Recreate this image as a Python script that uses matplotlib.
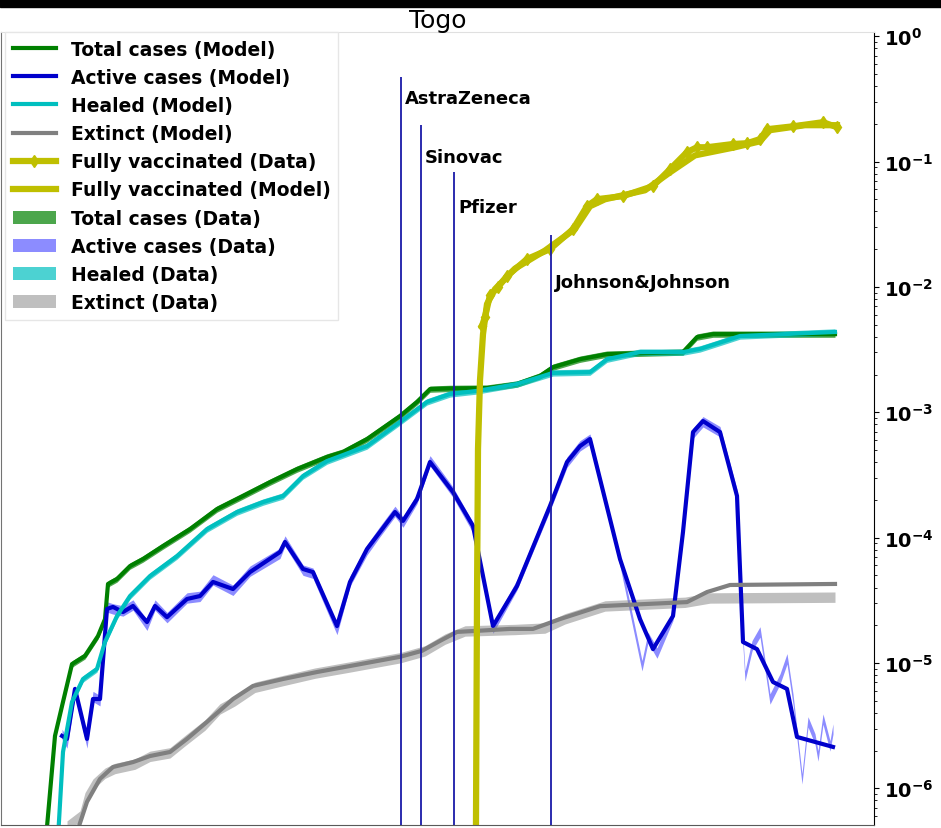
import matplotlib
matplotlib.use('Agg')
import matplotlib.pyplot as plt
from matplotlib.patches import Rectangle

# days since first reported case, values as fraction of population
total_days = [1, 10, 18, 27, 40, 53, 60, 63, 72, 85, 98, 118, 145, 172, 198, 225, 252, 282,
              298, 322, 355, 372, 385, 405, 442, 472, 495, 508, 535, 562, 638, 652, 668, 790]
total_model = [4.0e-7, 2.62e-6, 4.89e-6, 9.8e-6, 1.14e-5, 1.64e-5, 2.24e-5, 4.27e-5, 4.68e-5,
               5.93e-5, 6.75e-5, 8.57e-5, 1.17e-4, 1.69e-4, 2.15e-4, 2.77e-4, 3.52e-4, 4.40e-4,
               4.82e-4, 6.11e-4, 9.33e-4, 1.21e-3, 1.53e-3, 1.55e-3, 1.56e-3, 1.68e-3, 1.95e-3,
               2.29e-3, 2.65e-3, 2.91e-3, 3.02e-3, 3.98e-3, 4.2e-3, 4.2e-3]

healed_days = [13, 18, 27, 38, 52, 60, 72, 85, 105, 132, 162, 192, 218, 238, 258, 282, 322,
               355, 382, 405, 432, 472, 508, 545, 562, 595, 638, 655, 675, 695, 790]
healed_model = [4.0e-7, 1.95e-6, 4.89e-6, 7.45e-6, 8.96e-6, 1.47e-5, 2.37e-5, 3.42e-5, 4.94e-5,
                7.13e-5, 1.17e-4, 1.60e-4, 1.92e-4, 2.15e-4, 3.10e-4, 4.08e-4, 5.38e-4, 8.36e-4,
                1.21e-3, 1.40e-3, 1.48e-3, 1.68e-3, 2.06e-3, 2.09e-3, 2.65e-3, 3.02e-3, 3.02e-3,
                3.2e-3, 3.6e-3, 4.06e-3, 4.37e-3]

active_days = [17, 22, 30, 42, 48, 55, 62, 68, 78, 88, 102, 110, 122, 142, 155, 168, 188, 205,
               235, 240, 258, 268, 292, 305, 322, 335, 350, 358, 372, 385, 408, 428, 448, 472,
               505, 522, 535, 545, 575, 595, 608, 628, 638, 648, 658, 675, 692, 698, 712, 728,
               742, 752, 788]
active_model = [2.62e-6, 2.48e-6, 6.21e-6, 2.48e-6, 5.16e-6, 5.16e-6, 2.70e-5, 2.80e-5, 2.55e-5,
                2.85e-5, 2.12e-5, 2.85e-5, 2.32e-5, 3.24e-5, 3.42e-5, 4.43e-5, 3.89e-5, 5.31e-5,
                7.67e-5, 9.23e-5, 5.62e-5, 5.31e-5, 1.97e-5, 4.43e-5, 8.11e-5, 1.11e-4, 1.60e-4,
                1.36e-4, 2.03e-4, 4.01e-4, 2.31e-4, 1.24e-4, 1.97e-5, 4.11e-5, 1.79e-4, 4.01e-4,
                5.37e-4, 6.12e-4, 6.75e-5, 2.24e-5, 1.29e-5, 2.37e-5, 1.11e-4, 6.95e-4, 8.51e-4,
                6.95e-4, 2.15e-4, 1.47e-5, 1.29e-5, 7.05e-6, 6.21e-6, 2.57e-6, 2.14e-6]

active_data_days = [17, 22, 30, 42, 48, 55, 62, 68, 78, 88, 102, 110, 122, 142, 155, 168, 188,
                    205, 235, 240, 258, 268, 292, 305, 322, 335, 350, 358, 372, 385, 408, 428,
                    448, 472, 505, 522, 535, 545, 575, 597, 603, 612, 628, 638, 648, 658, 675,
                    692, 698, 700, 707, 715, 718, 725, 735, 742, 748, 757, 763, 770, 773, 778,
                    785, 788]
active_data = [2.7e-6, 2.3e-6, 6.0e-6, 2.3e-6, 5.4e-6, 5.0e-6, 2.8e-5, 2.7e-5, 2.6e-5, 2.9e-5,
               2.0e-5, 2.9e-5, 2.3e-5, 3.3e-5, 3.4e-5, 4.6e-5, 3.8e-5, 5.4e-5, 7.5e-5, 9.4e-5,
               5.5e-5, 5.2e-5, 1.85e-5, 4.5e-5, 8.0e-5, 1.12e-4, 1.62e-4, 1.33e-4, 2.05e-4, 4.1e-4,
               2.3e-4, 1.2e-4, 1.9e-5, 4.2e-5, 1.8e-4, 4.0e-4, 5.4e-4, 6.1e-4, 6.5e-5, 9.5e-6,
               1.6e-5, 1.2e-5, 2.4e-5, 1.1e-4, 6.8e-4, 8.4e-4, 7.0e-4, 2.2e-4, 1.47e-5, 7.87e-6,
               1.37e-5, 1.77e-5, 1.23e-5, 5.16e-6, 7.45e-6, 1.08e-5, 5.16e-6, 1.19e-6, 3.39e-6,
               2.48e-6, 1.81e-6, 3.57e-6, 2.18e-6, 2.98e-6]

extinct_days = [30, 42, 55, 68, 88, 105, 125, 142, 162, 188, 208, 238, 272, 305, 355, 377, 395,
                412, 435, 465, 488, 515, 555, 642, 662, 685, 790]
extinct_model = [4.0e-7, 7.8e-7, 1.19e-6, 1.48e-6, 1.62e-6, 1.81e-6, 1.95e-6, 2.48e-6, 3.39e-6,
                 5.16e-6, 6.56e-6, 7.45e-6, 8.47e-6, 9.46e-6, 1.12e-5, 1.25e-5, 1.50e-5, 1.77e-5,
                 1.81e-5, 1.87e-5, 1.87e-5, 2.24e-5, 2.84e-5, 3.06e-5, 3.68e-5, 4.19e-5, 4.27e-5]

extinct_data_days = [22, 35, 40, 48, 60, 70, 90, 105, 125, 140, 160, 175, 190, 210, 240, 270,
                     305, 355, 380, 400, 420, 470, 500, 520, 560, 640, 665, 790]
extinct_data = [5.0e-7, 6.0e-7, 8.4e-7, 1.08e-6, 1.32e-6, 1.44e-6, 1.56e-6, 1.8e-6, 1.92e-6,
                2.4e-6, 3.2e-6, 4.3e-6, 5.0e-6, 6.4e-6, 7.3e-6, 8.3e-6, 9.3e-6, 1.1e-5, 1.25e-5,
                1.55e-5, 1.8e-5, 1.85e-5, 1.9e-5, 2.25e-5, 2.85e-5, 3.05e-5, 3.3e-5, 3.35e-5]

vacc_data_days = [437, 440, 445, 453, 462, 482, 505, 528, 542, 552, 578, 608, 625, 642, 652,
                  662, 688, 702, 715, 722, 748, 778, 792]
vacc_data = [4.87e-3, 5.77e-3, 8.6e-3, 9.95e-3, 1.22e-2, 1.67e-2, 2.0e-2, 2.89e-2, 4.41e-2,
             5.01e-2, 5.30e-2, 6.37e-2, 8.69e-2, 0.119, 0.130, 0.130, 0.138, 0.140, 0.151,
             0.181, 0.191, 0.206, 0.188]

vacc_model_days = [430, 432, 433, 435, 438, 442, 450, 470, 500, 530, 545, 560, 600, 625, 650,
                   690, 715, 725, 760, 792]
vacc_model = [1e-8, 3.2e-5, 5.1e-4, 1.8e-3, 4.2e-3, 7.3e-3, 9.6e-3, 1.4e-2, 1.95e-2, 2.9e-2,
              4.4e-2, 5.0e-2, 5.9e-2, 8.2e-2, 0.112, 0.130, 0.145, 0.178, 0.195, 0.195]

vaccines = ['AstraZeneca', 'Sinovac', 'Pfizer', 'Johnson&Johnson']
vaccine_days = [356, 376, 409, 506]
vaccine_line_top = [0.47, 0.195, 0.082, 0.026]
vaccine_label_y = [0.32, 0.108, 0.043, 0.011]

ytick_vals = [1e-6, 1e-5, 1e-4, 1e-3, 1e-2, 1e-1, 1e0]


def band(vals, f):
    return [v / f for v in vals], [v * f for v in vals]


fig = plt.figure(figsize=(9.41, 8.29), dpi=100)
ax = fig.add_axes([1 / 941, 3 / 829, 873 / 941, 793 / 829])

h1, = ax.plot(total_days, total_model, color='g', lw=3, label='Total cases (Model)')
h2, = ax.plot(active_days, active_model, color='#0000cc', lw=3, label='Active cases (Model)')
h3, = ax.plot(healed_days, healed_model, color='c', lw=3, label='Healed (Model)')
h4, = ax.plot(extinct_days, extinct_model, color='gray', lw=3, label='Extinct (Model)')
h5, = ax.plot(vacc_data_days, vacc_data, color='y', lw=4.5, marker='d', ms=6,
              label='Fully vaccinated (Data)')
h6, = ax.plot(vacc_model_days, vacc_model, color='y', lw=4.5, label='Fully vaccinated (Model)')

lo, hi = band(total_model, 1.06)
f1 = ax.fill_between(total_days, lo, hi, color='g', alpha=0.7, lw=0, label='Total cases (Data)')
lo, hi = band(active_data, 1.1)
f2 = ax.fill_between(active_data_days, lo, hi, color='b', alpha=0.45, lw=0,
                     label='Active cases (Data)')
lo, hi = band(healed_model, 1.06)
f3 = ax.fill_between(healed_days, lo, hi, color='c', alpha=0.7, lw=0, label='Healed (Data)')
lo, hi = band(extinct_data, 1.1)
f4 = ax.fill_between(extinct_data_days, lo, hi, color='gray', alpha=0.5, lw=0,
                     label='Extinct (Data)')
for f in (f1, f3):
    f.set_zorder(1.5)

ax.vlines(vaccine_days, 1e-8, vaccine_line_top, colors='#1a1aa8', lw=1.3, zorder=3)
for name, d, y in zip(vaccines, vaccine_days, vaccine_label_y):
    ax.text(d + 4, y, name, fontsize=13, fontweight='bold', va='center', ha='left')

ax.set_yscale('log')
ax.set_ylim(5.1e-7, 1.08)
ax.set_xlim(-44, 829)
ax.set_xticks([])
ax.set_yticks(ytick_vals)
ax.yaxis.tick_right()
ax.tick_params(axis='y', labelsize=14)
for lab in ax.get_yticklabels():
    lab.set_fontweight('bold')
ax.spines['top'].set_color('0.88')
ax.spines['left'].set_color('0.45')
ax.spines['bottom'].set_color('0.35')

ax.set_title('Togo', fontsize=18, pad=2)

leg = ax.legend(handles=[h1, h2, h3, h4, h5, h6, f1, f2, f3, f4], loc='upper left',
                bbox_to_anchor=(0.005, 1.0), borderaxespad=0, handlelength=2.3,
                prop={'weight': 'bold', 'size': 13.5}, framealpha=1, edgecolor='0.9',
                fancybox=False, labelspacing=0.49)

fig.add_artist(Rectangle((0, 1 - 8 / 829), 1, 8 / 829, transform=fig.transFigure,
                         color='black'))

fig.savefig('out.png', dpi=100)
